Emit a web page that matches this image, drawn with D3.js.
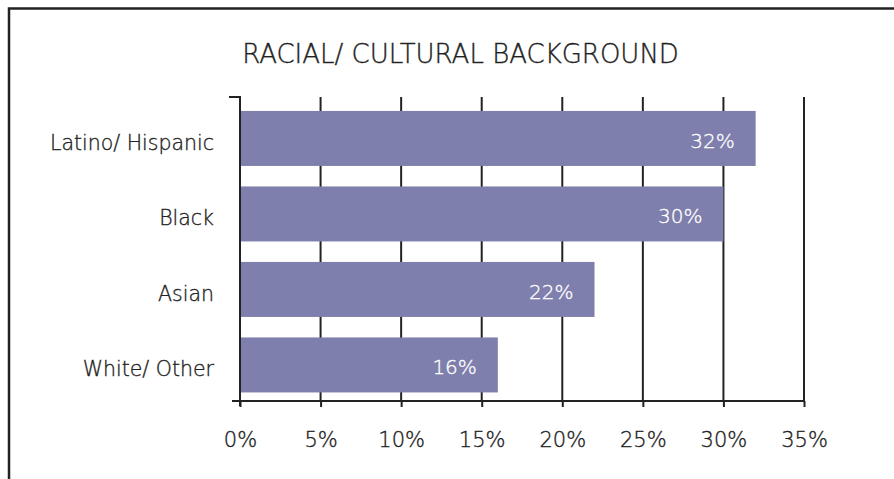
<!DOCTYPE html>
<html><head><meta charset="utf-8">
<script src="https://cdn.jsdelivr.net/npm/d3@7"></script>
<style>
html,body{margin:0;padding:0;background:#fff;}
svg text{font-family:"DejaVu Sans",sans-serif;font-weight:200;fill:#222;stroke:#222;stroke-width:0.35px;}
</style></head>
<body><svg id="c" width="894" height="479"></svg>
<script>
const categories = ["Latino/ Hispanic","Black","Asian","White/ Other"];
const values = [32,30,22,16];
const tickValues = [0,5,10,15,20,25,30,35];
const title = "RACIAL/ CULTURAL BACKGROUND";

const svg = d3.select("#c");
const W=894,H=479;
svg.append("path").attr("d","M9,"+(H+5)+" V8.5 H"+(W+5)).attr("fill","none").attr("stroke","#222").attr("stroke-width",2.5);

const m={l:240,t:97,r:804,b:401};
const x=d3.scaleLinear().domain([0,35]).range([m.l,m.r]);
const y=d3.scaleBand().domain(categories).range([m.t,m.b]).paddingInner(0.2715).paddingOuter(0.149).align(0.62);

svg.append("text").attr("x",460.5).attr("y",63).attr("text-anchor","middle")
  .style("font-size","26px").text(title);

const ax=svg.append("g").attr("transform","translate(0,"+m.b+")")
  .call(d3.axisBottom(x).tickValues(tickValues).tickFormat(d=>d+"%").tickSize(6).tickSizeOuter(0).tickPadding(0));
ax.select(".domain").remove();
ax.selectAll("line").attr("stroke","#222").attr("stroke-width",2);
ax.selectAll("text").style("font-size","21px").attr("fill","#222").attr("dy",null).attr("y",46);
svg.append("g").selectAll("line").data(tickValues.filter(d=>d>0)).join("line")
  .attr("x1",d=>x(d)).attr("x2",d=>x(d)).attr("y1",m.t).attr("y2",m.b)
  .attr("stroke","#222").attr("stroke-width",2);

svg.append("g").selectAll("rect").data(values).join("rect")
  .attr("x",x(0)+1).attr("y",(d,i)=>y(categories[i]))
  .attr("width",d=>x(d)-x(0)-1).attr("height",y.bandwidth())
  .attr("fill","#7f7fad");

svg.append("line").attr("x1",x(0)).attr("x2",x(0)).attr("y1",m.t-1).attr("y2",m.b+5).attr("stroke","#222").attr("stroke-width",2);
svg.append("line").attr("x1",m.l-8).attr("x2",x(35)+1).attr("y1",m.b).attr("y2",m.b).attr("stroke","#222").attr("stroke-width",2);
svg.append("line").attr("x1",m.l-11).attr("x2",m.l+1).attr("y1",m.t).attr("y2",m.t).attr("stroke","#222").attr("stroke-width",2);

svg.append("g").selectAll("text").data(categories).join("text")
  .attr("x",m.l-26).attr("y",d=>y(d)+y.bandwidth()/2+11.5)
  .attr("text-anchor","end").style("font-size","20.5px").text(d=>d);

svg.append("g").selectAll("text").data(values).join("text")
  .attr("x",d=>x(d)-21).attr("y",(d,i)=>y(categories[i])+y.bandwidth()/2+9.5)
  .attr("text-anchor","end").style("font-size","20px").style("fill","#fff").style("stroke","#fff").text(d=>d+"%");
</script></body></html>
